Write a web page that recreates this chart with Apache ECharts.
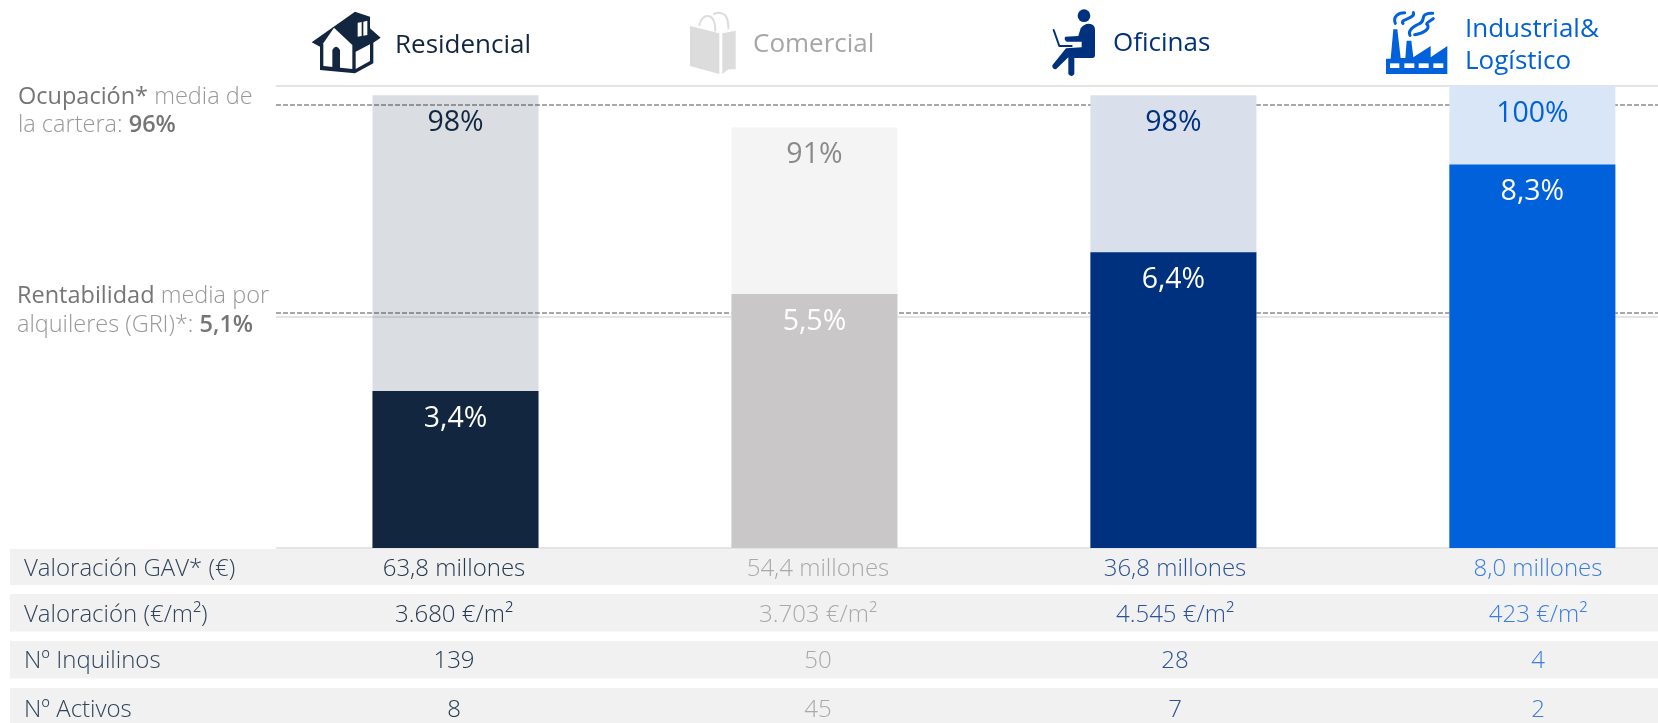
<!DOCTYPE html>
<html lang="es">
<head>
<meta charset="utf-8">
<title>Cartera por segmento</title>
<style>html,body{margin:0;padding:0;background:#fff}#chart{width:1658px;height:723px}</style>
<script src="https://cdn.jsdelivr.net/npm/echarts@6/dist/echarts.min.js"></script>
</head>
<body>
<div id="chart"></div>
<script>
// Segment data
const segments = ['Residencial', 'Comercial', 'Oficinas', 'Industrial&\nLogístico'];
const occupancy = [98, 91, 98, 100];
const grossYield = [3.4, 5.5, 6.4, 8.3];
const avgOccupancy = 96;
const avgYield = 5.1;

const rowTitles = ['Valoración GAV* (€)', 'Valoración (€/m²)', 'Nº Inquilinos', 'Nº Activos'];
const gavValues = ['63,8 millones', '54,4 millones', '36,8 millones', '8,0 millones'];
const sqmValues = ['3.680 €/m²', '3.703 €/m²', '4.545 €/m²', '423 €/m²'];
const tenantValues = ['139', '50', '28', '4'];
const assetValues = ['8', '45', '7', '2'];

// Segment palette
const darkColors = ['#12263f', '#c9c7c8', '#00317f', '#0061db'];
const lightColors = ['rgba(18,38,63,0.155)', '#f4f4f4', '#d9dfeb', '#d9e6f8'];
const labelColors = ['#12263f', '#8a8a8a', '#00317f', '#0061db'];
const tableColors = ['#24384f', '#a9a9a9', '#2b5293', '#3a7edf'];

const FONT = '"Open Sans", "Noto Sans", sans-serif';
const fmtYield = v => v.toFixed(1).replace('.', ',') + '%';

const chart = echarts.init(document.getElementById('chart'), null, { renderer: 'canvas' });

// Table rows under the plot
const rows = [gavValues, sqmValues, tenantValues, assetValues];
const rowCentres = [569, 615, 661, 710];
const rowTops = [549, 594, 641, 688];
const rowHeights = [36, 37.5, 37.5, 37.5];
const columnCentres = [454, 818, 1175, 1538];
const tableGraphics = [];
rows.forEach((values, r) => {
  tableGraphics.push({ type: 'rect', z: 1, silent: true,
    shape: { x: 10, y: rowTops[r], width: 1648, height: rowHeights[r] },
    style: { fill: '#f1f1f1' } });
  tableGraphics.push({ type: 'text', z: 2, silent: true,
    style: { x: 24, y: rowCentres[r], text: rowTitles[r], fill: '#31445b',
      fontFamily: FONT, fontWeight: 300, fontSize: 24, verticalAlign: 'middle', textAlign: 'left' } });
  values.forEach((txt, c) => {
    tableGraphics.push({ type: 'text', z: 2, silent: true,
      style: { x: columnCentres[c], y: rowCentres[r], text: txt, fill: tableColors[c],
        fontFamily: FONT, fontWeight: 300, fontSize: 24, verticalAlign: 'middle', textAlign: 'center' } });
  });
});

// Captions on the left of the plot
const captionRich = {
  b: { fontFamily: FONT, fontWeight: 400, fontSize: 23.5, fill: '#757575', color: '#757575' },
  v: { fontFamily: FONT, fontWeight: 600, fontSize: 23.5, fill: '#757575', color: '#757575' },
  l: { fontFamily: FONT, fontWeight: 300, fontSize: 23.5, fill: '#989898', color: '#989898' }
};
const caption = (x, y, text) => ({ type: 'text', silent: true, z: 2,
  style: { x, y, text, rich: captionRich, verticalAlign: 'middle', textAlign: 'left', fontFamily: FONT, fontSize: 23.5 } });
const captions = [
  caption(18, 97, '{b|Ocupación*} {l|media de}'),
  caption(18, 125, '{l|la cartera:} {v|96%}'),
  caption(17, 296, '{b|Rentabilidad} {l|media por}'),
  caption(17, 325, '{l|alquileres (GRI)*:} {v|5,1%}')
];

// Segment headers
const headerX = [395, 753, 1113, 1465];
const headerY = [[46], [45], [44], [30, 62]];
const headers = [];
segments.forEach((name, i) => {
  name.split('\n').forEach((line, k) => headers.push({ type: 'text', silent: true, z: 2,
    style: { x: headerX[i], y: headerY[i][k], text: line, fill: i === 1 ? '#a6a6a6' : labelColors[i],
      fontFamily: FONT, fontWeight: 400, fontSize: 26, verticalAlign: 'middle', textAlign: 'left' } }));
});

// Header pictograms, each drawn in its own 120x90 box at triple size
const solid = (d, fill) => ({ type: 'path', shape: { pathData: d }, style: { fill } });
const stroked = (d, stroke, w) => ({ type: 'path', shape: { pathData: d },
  style: { fill: 'none', stroke, lineWidth: w, lineCap: 'round', lineJoin: 'round' } });
const icon = (x, children) => ({ type: 'group', x, y: 0, scaleX: 1 / 3, scaleY: 1 / 3, children });

const houseIcon = icon(290, [
  solid('M65,127 L195,35 L215,42 L240,50 L240,85 L272,113 L250,128 L250,190 L195,220 L90,210 L90,140 Z', '#12263f'),
  solid('M132,83 L187,135 L187,207 L100,198 L100,130 Z', '#fff'),
  solid('M127,203 L127,150 Q138,130 150,150 L150,205 Z', '#12263f'),
  solid('M197,155 L240,133 L240,183 L197,207 Z', '#fff'),
  solid('M203,68 L215,66 L215,108 L203,110 Z', '#fff'),
  solid('M220,65 L232,62 L232,105 L220,107 Z', '#fff')
]);
const bagIcon = icon(670, [
  solid('M60,78 L148,100 L148,222 L60,198 Z', '#dcdcdc'),
  solid('M157,100 L197,92 L197,208 L175,208 L157,222 Z', '#dcdcdc'),
  stroked('M88,75 Q95,47 115,48 Q135,50 136,92', '#dcdcdc', 6),
  stroked('M132,42 Q150,33 165,45 Q175,57 175,85', '#dcdcdc', 6)
]);
const personIcon = icon(1040, [
  { type: 'circle', shape: { cx: 132, cy: 47, r: 19 }, style: { fill: '#00317f' } },
  solid('M122,85 Q135,68 152,72 Q165,75 165,90 L165,165 Q165,174 157,174 L103,174 L103,222 Q95,234 85,222 L85,172 L48,208 Q36,208 37,196 L78,145 L125,142 L125,125 L80,125 Q70,118 76,110 L115,108 Z', '#00317f'),
  stroked('M41,90 L58,138 L95,138', '#00317f', 6)
]);
const factoryIcon = icon(1370, [
  solid('M48,222 L48,176 L62,176 L70,88 L82,88 L92,174 L106,174 L110,122 L124,122 L130,172 L182,138 L182,172 L232,138 L232,222 Z', '#0061db'),
  solid('M60,190 h28 v14 h-28 Z', '#fff'),
  solid('M103,190 h30 v14 h-30 Z', '#fff'),
  solid('M146,190 h30 v14 h-30 Z', '#fff'),
  solid('M190,190 h30 v14 h-30 Z', '#fff'),
  stroked('M76,70 C68,50 85,38 104,38', '#0061db', 9),
  stroked('M130,38 C135,52 110,55 100,62 C96,65 97,68 99,70', '#0061db', 9),
  stroked('M120,106 C112,88 135,78 150,70 C165,62 155,50 165,44 Q175,38 188,40', '#0061db', 9),
  stroked('M134,104 C160,100 185,85 170,72 C168,68 185,60 190,56', '#0061db', 9)
]);
const pictograms = [houseIcon, bagIcon, personIcon, factoryIcon];

const averageLine = value => ({
  silent: true, symbol: 'none', animation: false, z: 1, label: { show: false },
  lineStyle: { color: '#8c8c8c', type: [5, 2], width: 1.5 },
  data: [{ yAxis: value }]
});

// Column positions on a unit scale; the last band runs past the right edge of the plot
const bandCentre = i => i + 0.5;
const visibleBands = 3.85;

chart.setOption({
  animation: false,
  backgroundColor: '#fff',
  textStyle: { fontFamily: FONT },
  grid: { left: 276, right: 0, top: 86, height: 462, containLabel: false },
  xAxis: {
    type: 'value', min: 0, max: visibleBands,
    axisLine: { show: false },
    axisTick: { show: false },
    axisLabel: { show: false },
    splitLine: { show: false }
  },
  yAxis: [
    { type: 'value', min: 0, max: 100, interval: 50,
      axisLine: { show: false }, axisTick: { show: false }, axisLabel: { show: false },
      splitLine: { show: true, lineStyle: { color: '#e4e4e4', width: 2 } } },
    { type: 'value', min: 0, max: 10, interval: 5,
      axisLine: { show: false }, axisTick: { show: false }, axisLabel: { show: false },
      splitLine: { show: false } }
  ],
  series: [
    { name: 'Promedio ocupación', type: 'line', data: [], z: 1, silent: true, markLine: averageLine(avgOccupancy) },
    { name: 'Promedio rentabilidad', type: 'line', yAxisIndex: 1, data: [], z: 1, silent: true, markLine: averageLine(avgYield) },
    {
      name: 'Ocupación', type: 'bar', barWidth: 166, barGap: '-100%', z: 2,
      data: occupancy.map((v, i) => ({
        value: [bandCentre(i), v],
        itemStyle: { color: lightColors[i] },
        label: { color: labelColors[i] }
      })),
      label: { show: true, position: 'insideTop', distance: 13, fontFamily: FONT, fontWeight: 400, fontSize: 28.5,
        formatter: p => p.value[1] + '%' }
    },
    {
      name: 'Rentabilidad', type: 'bar', barWidth: 166, barGap: '-100%', yAxisIndex: 1, z: 3,
      data: grossYield.map((v, i) => ({ value: [bandCentre(i), v], itemStyle: { color: darkColors[i] } })),
      label: { show: true, position: 'insideTop', distance: 13, color: '#fff', fontFamily: FONT, fontWeight: 400, fontSize: 28.5,
        formatter: p => fmtYield(p.value[1]) }
    },
    {
      name: 'Pictogramas', type: 'custom', coordinateSystem: 'none', silent: true, z: 5,
      data: pictograms.map((_, i) => i),
      renderItem: (params, api) => pictograms[api.value(0)]
    }
  ],
  graphic: { elements: [...tableGraphics, ...captions, ...headers] }
});
</script>
</body>
</html>
